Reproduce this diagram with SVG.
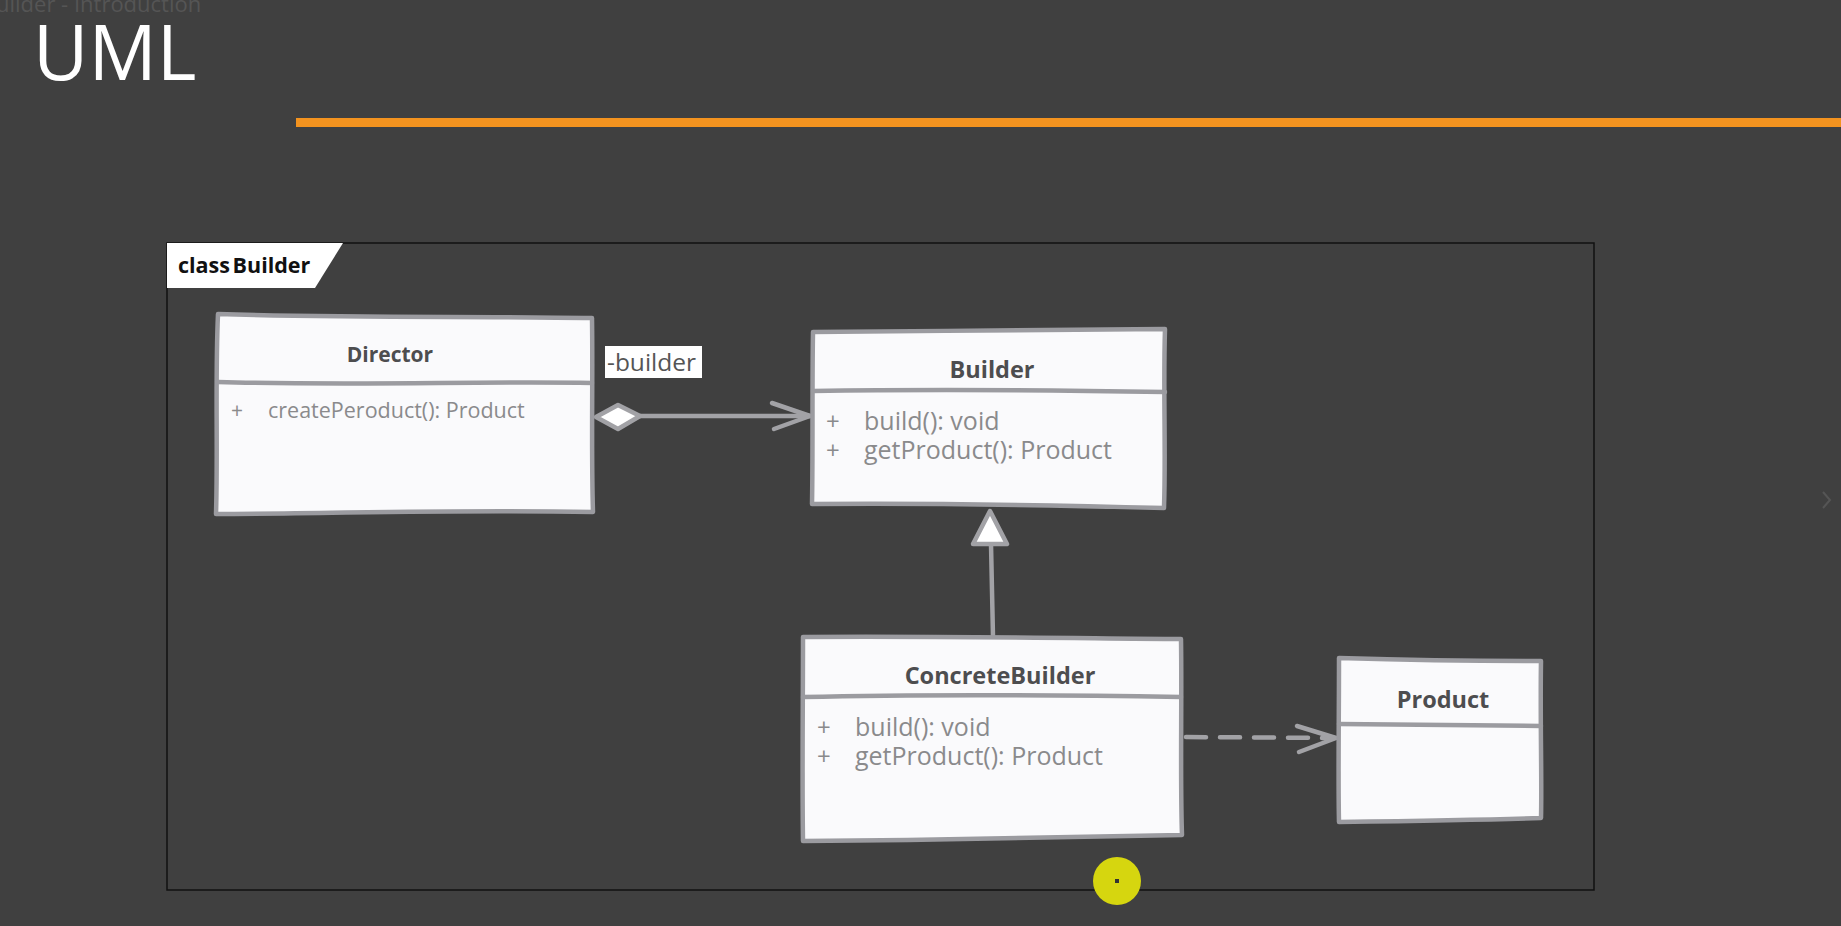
<svg xmlns="http://www.w3.org/2000/svg" width="1841" height="926" viewBox="0 0 1841 926">
<style>
.box{fill:#fafafc;stroke:#9b9ba0;stroke-width:4.5;stroke-linejoin:round;stroke-linecap:round}
.div{fill:none;stroke:#9b9ba0;stroke-width:4.5;stroke-linecap:round}
.title{font-family:"Open Sans","Noto Sans",sans-serif;font-weight:bold;fill:#4d4d4f;text-anchor:middle}
.meth{font-family:"Open Sans","Noto Sans",sans-serif;fill:#8a8a8c}
.conn{fill:none;stroke:#a2a2a6;stroke-width:4.5;stroke-linecap:round;stroke-linejoin:round}
</style>
<rect x="0" y="0" width="1841" height="926" fill="#404040"/>
<text x="-4" y="12" font-family="Open Sans, Noto Sans, sans-serif" font-size="22" fill="#555555">uilder - Introduction</text>
<text x="33" y="80" font-family="Open Sans, Noto Sans, sans-serif" font-size="76" fill="#ffffff">UML</text>
<rect x="296" y="118" width="1545" height="9" fill="#f3931f"/>
<path d="M1823,492 L1830,500 L1823,508" fill="none" stroke="#555555" stroke-width="2"/>

<g id="frame">
<rect x="167" y="243" width="1427" height="647" fill="none" stroke="#111111" stroke-width="1.5"/>
<polygon points="167,243 343,243 315,288 167,288" fill="#ffffff"/>
<text x="178" y="273" font-family="Open Sans, Noto Sans, sans-serif" font-size="21.5" font-weight="bold" fill="#111111" word-spacing="-3">class Builder</text>
</g>

<g id="connectors">
<g id="aggregation">
<line x1="640" y1="416" x2="810" y2="416" class="conn"/>
<polygon points="596,417 618,405 640,416 618,429" fill="#ffffff" stroke="#a2a2a6" stroke-width="4.5" stroke-linejoin="round"/>
<polyline points="772,403 810,416 774,429" class="conn"/>
<rect x="605" y="346" width="97" height="32" fill="#ffffff"/>
<text x="607" y="371" font-family="Open Sans, Noto Sans, sans-serif" font-size="24.5" fill="#555555">-builder</text>
</g>
<g id="generalization">
<line x1="993" y1="637" x2="991" y2="544" class="conn"/>
<polygon points="990,511 1007,544 973,544" fill="#ffffff" stroke="#a2a2a6" stroke-width="4.5" stroke-linejoin="round"/>
</g>
<g id="dependency">
<path d="M1186,737 L1334,738" class="conn" stroke-dasharray="20,14"/>
<polyline points="1297,726 1336,738 1299,752" class="conn"/>
</g>
</g>

<g id="Director">
<path class="box" d="M218,314 C350,318 480,316 592,318 C593,380 591,450 593,512 C450,509 330,514 216,514 C218,450 215,380 218,314 Z"/>
<path class="div" d="M218,382 C350,386 480,381 592,383"/>
<text class="title" x="390" y="362" font-size="21">Director</text>
<text class="meth" x="231" y="418" font-size="21">+</text>
<text class="meth" x="268" y="418" font-size="21.5">createPeroduct(): Product</text>
</g>

<g id="Builder">
<path class="box" d="M813,332 C930,331 1050,330 1165,329 C1163,390 1166,450 1164,508 C1050,505 930,503 812,504 C813,450 812,390 813,332 Z"/>
<path class="div" d="M813,391 C930,389 1050,390 1165,392"/>
<text class="title" x="992" y="378" font-size="23.5">Builder</text>
<text class="meth" x="826" y="430" font-size="24">+</text>
<text class="meth" x="864" y="430" font-size="25">build(): void</text>
<text class="meth" x="826" y="459" font-size="24">+</text>
<text class="meth" x="864" y="459" font-size="25">getProduct(): Product</text>
</g>

<g id="ConcreteBuilder">
<path class="box" d="M803,637 C930,636 1060,638 1181,639 C1182,700 1180,780 1182,835 C1060,838 930,840 803,841 C802,780 803,700 803,637 Z"/>
<path class="div" d="M803,697 C930,694 1060,695 1181,697"/>
<text class="title" x="1000" y="684" font-size="23.5">ConcreteBuilder</text>
<text class="meth" x="817" y="736" font-size="24">+</text>
<text class="meth" x="855" y="736" font-size="25">build(): void</text>
<text class="meth" x="817" y="765" font-size="24">+</text>
<text class="meth" x="855" y="765" font-size="25">getProduct(): Product</text>
</g>

<g id="Product">
<path class="box" d="M1339,658 C1410,660 1480,661 1541,661 C1540,720 1542,780 1541,818 C1480,820 1410,821 1339,822 C1338,780 1339,720 1339,658 Z"/>
<path class="div" d="M1339,724 C1410,725 1480,726 1541,726"/>
<text class="title" x="1443" y="708" font-size="23.5">Product</text>
</g>

<g id="pointer">
<circle cx="1117" cy="881" r="24" fill="#d6d60f"/>
<rect x="1115" y="879" width="4" height="4" fill="#333333"/>
</g>
</svg>
